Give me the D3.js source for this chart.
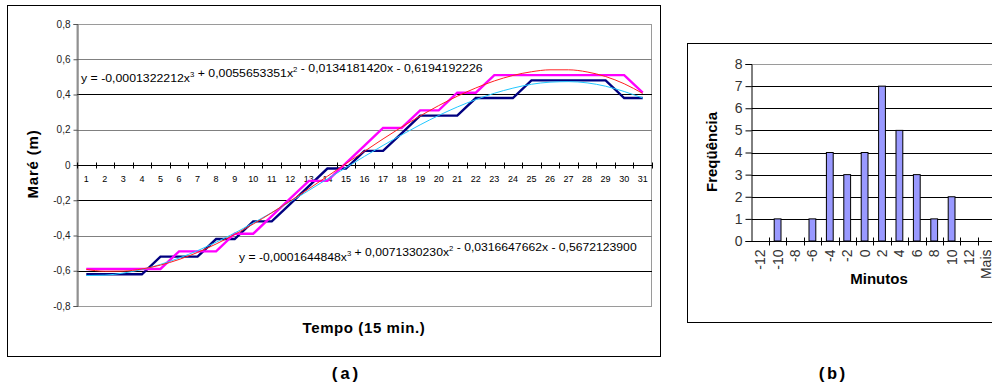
<!DOCTYPE html>
<html>
<head>
<meta charset="utf-8">
<script src="https://cdn.jsdelivr.net/npm/d3@7"></script>
<style>
  body { margin: 0; background: #fff; }
  svg { display: block; font-family: "Liberation Sans", Arial, sans-serif; }
</style>
</head>
<body>
<svg id="chart" width="992" height="389"></svg>
<script>
// ---- data (a): tide, 15-min steps
const times = d3.range(1, 32)
const observed = [-0.62,-0.62,-0.62,-0.62,-0.52,-0.52,-0.52,-0.42,-0.42,-0.32,-0.32,-0.22,-0.12,-0.02,-0.02,
  0.08,0.08,0.18,0.28,0.28,0.28,0.38,0.38,0.38,0.48,0.48,0.48,0.48,0.48,0.38,0.38]
const predicted = [-0.59,-0.59,-0.59,-0.59,-0.59,-0.49,-0.49,-0.49,-0.39,-0.39,-0.29,-0.19,-0.09,-0.09,0.01,
  0.11,0.21,0.21,0.31,0.31,0.41,0.41,0.51,0.51,0.51,0.51,0.51,0.51,0.51,0.51,0.41]
const trendObserved = [-0.627,-0.625,-0.613,-0.593,-0.564,-0.528,-0.486,-0.438,-0.386,-0.329,-0.270,-0.208,-0.144,-0.079,-0.015,
  0.049,0.111,0.171,0.228,0.281,0.329,0.371,0.407,0.436,0.458,0.470,0.473,0.466,0.447,0.417,0.380]
const trendPredicted = [-0.592,-0.603,-0.602,-0.590,-0.568,-0.536,-0.496,-0.448,-0.394,-0.335,-0.271,-0.204,-0.135,-0.064,0.008,
  0.078,0.148,0.215,0.278,0.337,0.390,0.437,0.477,0.508,0.529,0.540,0.540,0.528,0.502,0.461,0.406]
const tideTicks = [-0.8,-0.6,-0.4,-0.2,0,0.2,0.4,0.6,0.8]
const eqUpper = [["y = -0,0001322212x", "3"], [" + 0,0055653351x", "2"], [" - 0,0134181420x - 0,6194192226", ""]]
const eqLower = [["y = -0,0001644848x", "3"], [" + 0,0071330230x", "2"], [" - 0,0316647662x - 0,5672123900", ""]]

// ---- data (b): histogram of minutes
const minutes = ["-12","-10","-8","-6","-4","-2","0","2","4","6","8","10","12","Mais"]
const freq = [0,1,0,1,4,3,4,7,5,3,1,2,0,0]
const freqTicks = d3.range(0, 9)

const svg = d3.select("#chart")
svg.append("rect").attr("width", 992).attr("height", 389).attr("fill", "#fff")

const locale = d3.formatLocale({ decimal: ",", thousands: ".", grouping: [3], currency: ["", ""], minus: "-" })
const fmt1 = locale.format(".1f")

// ================= chart (a) =================
const A = { left: 77, right: 652, top: 24, bottom: 306 }
svg.append("rect").attr("x", 7.5).attr("y", 5.5).attr("width", 653).attr("height", 351)
    .attr("fill", "#fff").attr("stroke", "#000")

const xA = d3.scaleBand().domain(times).range([A.left, A.right])
const yA = d3.scaleLinear().domain([-0.8, 0.8]).range([A.bottom, A.top])
const cx = d => xA(d) + xA.bandwidth() / 2

const gA = svg.append("g")
// plot area frame
gA.append("rect").attr("x", A.left).attr("y", A.top + 0.5).attr("width", A.right - A.left - 0.5).attr("height", A.bottom - A.top)
    .attr("fill", "none").attr("stroke", "#9a9a9a")

// gridlines
gA.append("g").selectAll("line")
    .data(tideTicks.filter(d => d !== 0 && Math.abs(d) < 0.8)).enter().append("line")
    .attr("x1", A.left).attr("x2", A.right)
    .attr("y1", d => Math.round(yA(d)) + 0.5).attr("y2", d => Math.round(yA(d)) + 0.5)
    .attr("stroke", d => [0.4, -0.2, -0.6].includes(+d.toFixed(1)) ? "#000" : "#808080")

// y axis
const yAxisA = gA.append("g").attr("transform", `translate(${A.left + 0.5},0)`)
    .call(d3.axisLeft(yA).tickValues(tideTicks).tickSize(4).tickFormat(d => d === 0 ? "0" : fmt1(d)))
yAxisA.select(".domain").attr("stroke", "#555")
yAxisA.selectAll(".tick line").attr("stroke", "#555")
yAxisA.selectAll("text").attr("font-size", 10).attr("fill", "#222").attr("x", -7)

// x axis on zero line, ticks between categories
const zeroY = Math.round(yA(0)) + 0.5
gA.append("line").attr("x1", A.left).attr("x2", A.right).attr("y1", zeroY).attr("y2", zeroY).attr("stroke", "#000")
gA.append("g").selectAll("line")
    .data(times.concat([32])).enter().append("line")
    .attr("x1", d => Math.round(A.left + (d - 1) * xA.bandwidth()) + 0.5)
    .attr("x2", d => Math.round(A.left + (d - 1) * xA.bandwidth()) + 0.5)
    .attr("y1", zeroY - 3).attr("y2", zeroY + 3).attr("stroke", "#000")
gA.append("g").selectAll("text")
    .data(times).enter().append("text")
    .attr("x", d => cx(d)).attr("y", zeroY + 16)
    .attr("text-anchor", "middle").attr("font-size", 9).attr("fill", "#000")
    .text(d => d)

// series
const lineA = vals => d3.line().x((d, i) => cx(times[i])).y(d => yA(d))(vals)
const smoothA = vals => d3.line().x((d, i) => cx(times[i])).y(d => yA(d)).curve(d3.curveMonotoneX)(vals)
gA.append("path").attr("d", lineA(observed)).attr("fill", "none").attr("stroke", "#000080").attr("stroke-width", 2.4)
gA.append("path").attr("d", lineA(predicted)).attr("fill", "none").attr("stroke", "#ff00ff").attr("stroke-width", 2.4)
gA.append("path").attr("d", smoothA(trendObserved)).attr("fill", "none").attr("stroke", "#22c8ff").attr("stroke-width", 1)
gA.append("path").attr("d", smoothA(trendPredicted)).attr("fill", "none").attr("stroke", "#ff2020").attr("stroke-width", 1)

// trendline equations
function equation(parts, x0, y0, width) {
    const t = gA.append("text").attr("font-size", 11).attr("fill", "#000")
    parts.forEach(([txt, sup]) => {
        t.append("tspan").attr("dy", 0).text(txt)
        if (sup) {
            t.append("tspan").attr("font-size", 7).attr("dy", -5).text(sup)
            t.append("tspan").attr("dy", 5).text("")
        }
    })
    const w = t.node().getComputedTextLength()
    t.attr("transform", `translate(${x0},${y0}) scale(${width / w},1)`)
}
equation(eqUpper, 81, 82, 402)
equation(eqLower, 239, 261, 398)

// axis titles
svg.append("text").attr("transform", `translate(38,164) rotate(-90)`)
    .attr("text-anchor", "middle").attr("font-size", 15).attr("letter-spacing", 0.8)
    .attr("font-weight", "bold").text("Maré (m)")
svg.append("text").attr("x", 364).attr("y", 333)
    .attr("text-anchor", "middle").attr("font-size", 15).attr("letter-spacing", 0.6)
    .attr("font-weight", "bold").text("Tempo (15 min.)")

// ================= chart (b) =================
const B = { left: 751.5, top: 64, bottom: 241 }
const slot = 17.4
svg.append("rect").attr("x", 687.5).attr("y", 43.5).attr("width", 400).attr("height", 279)
    .attr("fill", "#fff").attr("stroke", "#000")

const xB = d3.scaleBand().domain(minutes).range([B.left, B.left + slot * minutes.length])
const yB = d3.scaleLinear().domain([0, 8]).range([B.bottom, B.top])
const gB = svg.append("g")

gB.append("g").selectAll("line")
    .data(freqTicks.filter(d => d > 0)).enter().append("line")
    .attr("x1", B.left).attr("x2", 992)
    .attr("y1", d => Math.round(yB(d)) + 0.5).attr("y2", d => Math.round(yB(d)) + 0.5)
    .attr("stroke", d => d === 8 ? "#9a9a9a" : "#000")

const yAxisB = gB.append("g").attr("transform", `translate(${B.left},0)`)
    .call(d3.axisLeft(yB).tickValues(freqTicks).tickSize(6).tickFormat(d => d))
yAxisB.select(".domain").attr("stroke", "#000")
yAxisB.selectAll(".tick line").attr("stroke", "#000")
yAxisB.selectAll("text").attr("font-size", 14).attr("fill", "#333").attr("x", -9)

// bars
const barW = 6.8
gB.append("g").selectAll("rect")
    .data(minutes.map((m, i) => ({ m, v: freq[i] })).filter(d => d.v > 0)).enter().append("rect")
    .attr("x", d => xB(d.m) + xB.bandwidth() / 2 - barW / 2)
    .attr("y", d => yB(d.v))
    .attr("width", barW).attr("height", d => yB(0) - yB(d.v))
    .attr("fill", "#9999ff").attr("stroke", "#000").attr("stroke-width", 1)

// category axis
const baseY = Math.round(yB(0)) + 0.5
gB.append("line").attr("x1", B.left).attr("x2", 992).attr("y1", baseY).attr("y2", baseY).attr("stroke", "#000")
gB.append("g").selectAll("line")
    .data(d3.range(1, minutes.length + 1)).enter().append("line")
    .attr("x1", d => Math.round(B.left + d * slot) + 0.5).attr("x2", d => Math.round(B.left + d * slot) + 0.5)
    .attr("y1", baseY - 4).attr("y2", baseY + 4).attr("stroke", "#000")
gB.append("g").selectAll("text")
    .data(minutes).enter().append("text")
    .attr("transform", d => `translate(${xB(d) + xB.bandwidth() / 2 + 5},${baseY + 8}) rotate(-90)`)
    .attr("text-anchor", "end").attr("font-size", 14).attr("fill", "#333")
    .text(d => d)

svg.append("text").attr("transform", `translate(717,152) rotate(-90)`)
    .attr("text-anchor", "middle").attr("font-size", 15).attr("font-weight", "bold").text("Freqüência")
svg.append("text").attr("x", 879).attr("y", 284)
    .attr("text-anchor", "middle").attr("font-size", 15).attr("font-weight", "bold").text("Minutos")

// captions
svg.append("text").attr("x", 345).attr("y", 379).attr("text-anchor", "middle").attr("font-weight", "bold")
    .attr("font-family", "'Liberation Mono', 'Courier New', monospace").attr("font-size", 17).text("(a)")
svg.append("text").attr("x", 832).attr("y", 379).attr("text-anchor", "middle").attr("font-weight", "bold")
    .attr("font-family", "'Liberation Mono', 'Courier New', monospace").attr("font-size", 17).text("(b)")
</script>
</body>
</html>
